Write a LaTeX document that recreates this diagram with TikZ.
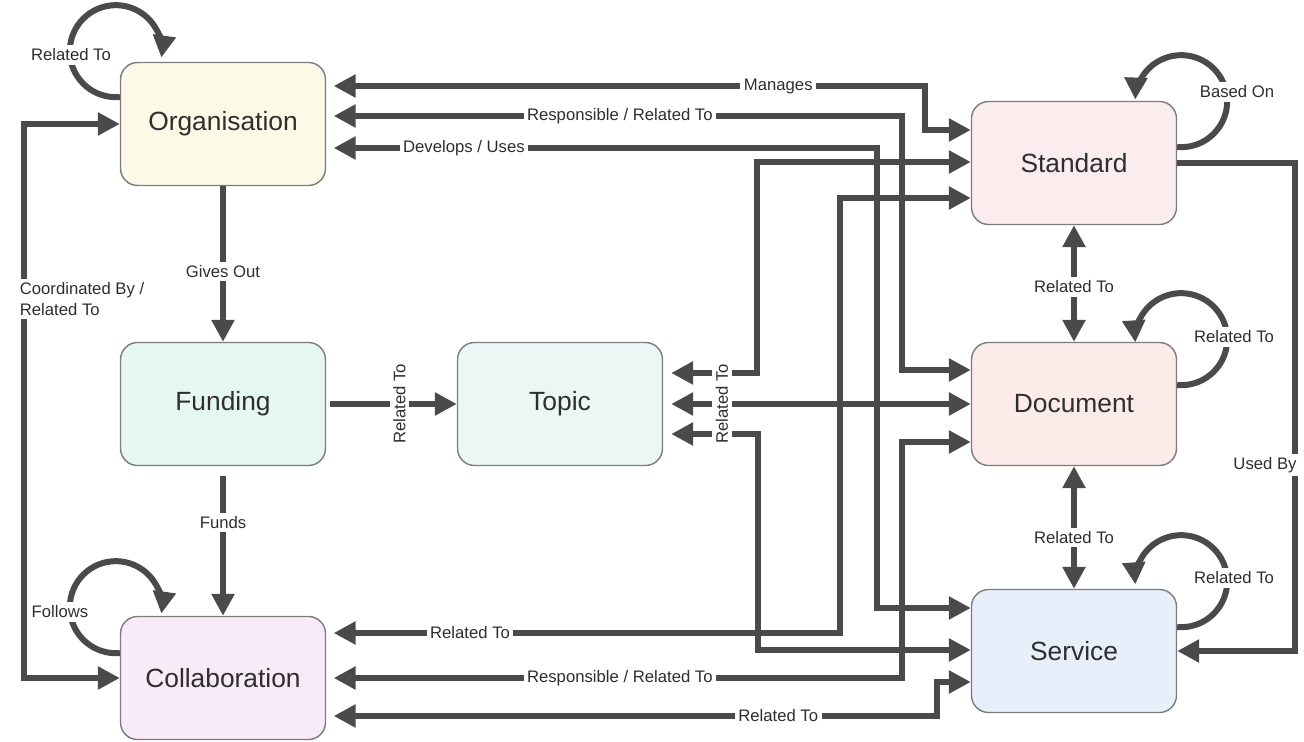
\documentclass[tikz,border=0pt]{standalone}
\usepackage{fontspec}
\setmainfont{Liberation Sans}
\usepackage{tikz}
\usetikzlibrary{arrows.meta,positioning}
\definecolor{linegray}{HTML}{4A4A4A}
\definecolor{boxgray}{HTML}{7C7C7C}
\definecolor{textgray}{HTML}{2E2E2E}
\definecolor{orgfill}{HTML}{FCF9E7}
\definecolor{fundfill}{HTML}{E6F7F1}
\definecolor{topicfill}{HTML}{EAF7F4}
\definecolor{stdfill}{HTML}{FBEDED}
\definecolor{docfill}{HTML}{FBECEA}
\definecolor{servfill}{HTML}{E7F0FA}
\definecolor{collabfill}{HTML}{F9EAF8}

\begin{document}
\begin{tikzpicture}[x=0.02cm, y=-0.02cm, >={Triangle[length=0.44cm,width=0.44cm]}]
\tikzstyle{entity}=[rectangle, rounded corners=0.34cm, minimum width=4.1cm, minimum height=2.46cm, draw=boxgray, line width=0.8pt, text=textgray, font=\fontsize{15}{18}\selectfont]
\tikzstyle{connect}=[->, line width=0.12cm, draw=linegray]
\tikzstyle{both}=[<->, line width=0.12cm, draw=linegray]
\tikzstyle{off}=[shorten <=0.15cm]
\tikzstyle{lbl}=[fill=white, inner sep=2pt, text=textgray, font=\fontsize{9.5}{12}\selectfont]
\useasboundingbox (0,0) rectangle (1304,742);

	\node[entity, fill=orgfill] (org) at (223,124) {Organisation};
	\node[entity, fill=fundfill] (fund) at (223,404) {Funding};
	\node[entity, fill=collabfill] (collab) at (223,678) {Collaboration};
	\node[entity, fill=topicfill] (topic) at (560,404) {Topic};
	\node[entity, fill=stdfill] (std) at (1074,163) {Standard};
	\node[entity, fill=docfill] (doc) at (1074,404) {Document};
	\node[entity, fill=servfill] (serv) at (1074,651) {Service};

	\draw[connect] (org) -- node[lbl, pos=0.55] (l_gives) {Gives Out} (fund);
	\draw[connect, shorten <=0.2cm] (fund) -- node[lbl, pos=0.375] (l_funds) {Funds} (collab);
	\draw[connect, shorten <=0.08cm] (fund) -- node[lbl, pos=0.56, rotate=90] (l_fund_topic) {Related To} (topic);
	\draw[both] (org.west) -| (24,400) |- (collab.west);
	\node[lbl, anchor=west, align=left] (l_coord) at (16,299) {Coordinated By /\\Related To};

	\draw[both, off] (org.east |- 0,86) -- node[lbl, pos=0.755] (l_manages) {Manages} (925,86) -- (925,130) -- (std.west |- 0,130);
	\draw[both, off] (org.east |- 0,116) -- node[lbl, pos=0.51] (l_resp_org) {Responsible / Related To} (902,116) -- (902,370) -- (doc.west |- 0,370);
	\draw[both, off] (org.east |- 0,148) -- node[lbl, pos=0.25] (l_dev) {Develops / Uses} (877,148) -- (877,608) -- (serv.west |- 0,608);

	\draw[both, shorten <=0.16cm] (topic.east |- 0,373) -- (757,373) -- (757,162) -- (std.west |- 0,162);
	\draw[both, shorten <=0.16cm] (topic.east) -- (doc.west);
	\draw[both, shorten <=0.16cm] (topic.east |- 0,434) -- (758,434) -- (758,650) -- (serv.west |- 0,650);
	\node[lbl, rotate=90] (l_topic) at (722,404) {Related To};

	\draw[both, off] (collab.east |- 0,633) -- node[lbl, pos=0.28] (l_col_std) {Related To} (840,633) -- (840,198) -- (std.west |- 0,198);
	\draw[both, off] (collab.east |- 0,678) -- node[lbl, pos=0.51] (l_resp_col) {Responsible / Related To} (902,678) -- (902,442) -- (doc.west |- 0,442);
	\draw[both, off] (collab.east |- 0,716) -- node[lbl, pos=0.74] (l_col_serv) {Related To} (937,716) -- (937,682) -- (serv.west |- 0,682);

	\draw[both] (std) -- node[lbl, pos=0.53] (l_std_doc) {Related To} (doc);
	\draw[both] (doc) -- node[lbl, pos=0.58] (l_doc_serv) {Related To} (serv);
	\draw[connect] (std.east) -- (1295,163) -- (1295,651) -- (serv.east);
	\node[lbl] (l_used) at (1265,465) {Used By};

	\draw[connect] (org.west |- 0,97) arc[start angle=85, end angle=368, radius=46];
	\node[lbl] (l_org_loop) at (71,55) {Related To};
	\draw[connect] (collab.west |- 0,653) arc[start angle=85, end angle=368, radius=46];
	\node[lbl] (l_follows) at (60,612) {Follows};
	\draw[connect] (std.east |- 0,147) arc[start angle=95, end angle=-178, radius=46];
	\node[lbl] (l_based) at (1237,92) {Based On};
	\draw[connect] (doc.east |- 0,385) arc[start angle=95, end angle=-184, radius=46];
	\node[lbl] (l_doc_loop) at (1234,337) {Related To};
	\draw[connect] (serv.east |- 0,627) arc[start angle=95, end angle=-184, radius=46];
	\node[lbl] (l_serv_loop) at (1234,578) {Related To};
\end{tikzpicture}
\end{document}
